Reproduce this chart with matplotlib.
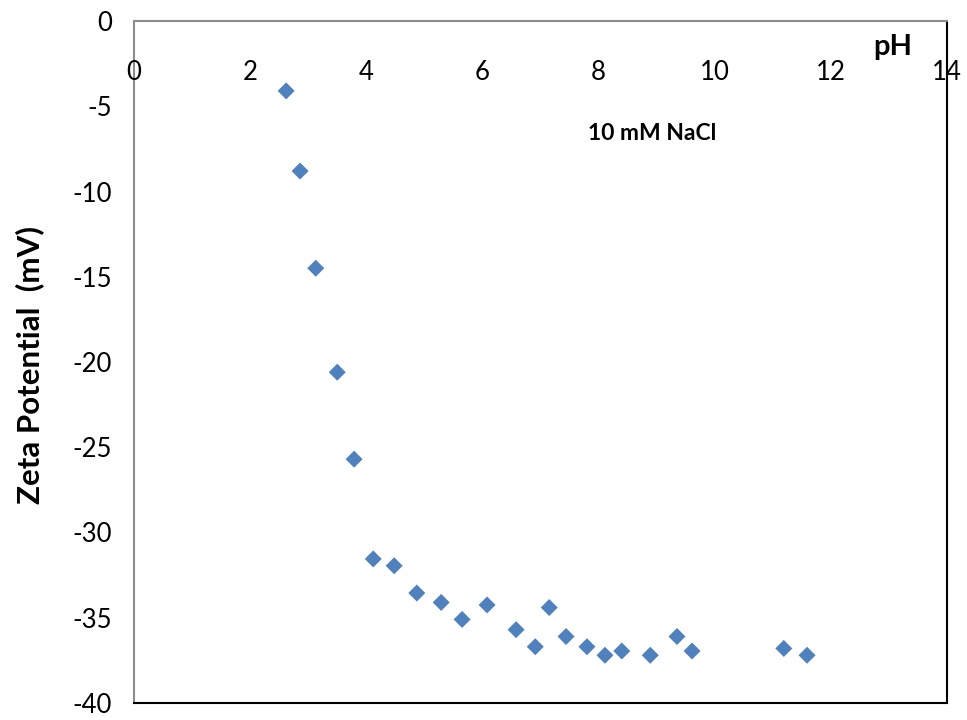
import matplotlib
matplotlib.use("Agg")
import matplotlib.pyplot as plt

ph = [2.62, 2.86, 3.13, 3.50, 3.79, 4.12, 4.48, 4.87, 5.29, 5.65, 6.08, 6.58,
      6.91, 7.15, 7.44, 7.80, 8.11, 8.40, 8.89, 9.35, 9.61, 11.19, 11.59]
zeta = [-4.1, -8.8, -14.5, -20.6, -25.7, -31.55, -31.95, -33.55, -34.1, -35.1,
        -34.25, -35.7, -36.7, -34.4, -36.1, -36.7, -37.2, -36.95, -37.2, -36.1,
        -36.95, -36.8, -37.2]
xticks = [0, 2, 4, 6, 8, 10, 12, 14]
yticks = [0, -5, -10, -15, -20, -25, -30, -35, -40]

plt.rcParams['font.family'] = ['Lato', 'DejaVu Sans']

fig = plt.figure(figsize=(9.67, 7.2), dpi=100)
ax = fig.add_axes([134/967, 1-703/720, (947-134)/967, (703-21)/720])
ax.scatter(ph, zeta, marker='D', s=75, color='#4F81BD', edgecolors='none', zorder=3)

ax.set_xlim(0, 14)
ax.set_ylim(-40, 0)
ax.set_xticks(xticks)
ax.set_xticklabels([])
ax.set_yticks(yticks)
ax.set_yticklabels([str(v) for v in yticks], fontsize=18.5)
ax.tick_params(axis='both', length=0)
ax.tick_params(axis='y', pad=16)
for v in xticks:
    ax.text(v, -3.0, str(v), ha='center', va='center', fontsize=18.5)

ax.spines['left'].set_color('#8c8c8c')
ax.spines['top'].set_color('#8c8c8c')
ax.spines['right'].set_color('black')
ax.spines['bottom'].set_color('black')
for s in ax.spines.values():
    s.set_linewidth(1.5)

ax.text(13.07, -1.52, 'pH', ha='center', va='center', fontsize=21, fontweight='bold')
ax.text(8.92, -6.57, '10 mM NaCl', ha='center', va='center', fontsize=16.5, fontweight='bold')
fig.text(30/967, 1-364.5/720, 'Zeta Potential  (mV)', rotation=90, ha='center', va='center',
         fontsize=22.5, fontweight='bold')

fig.savefig('out.png', dpi=100)
